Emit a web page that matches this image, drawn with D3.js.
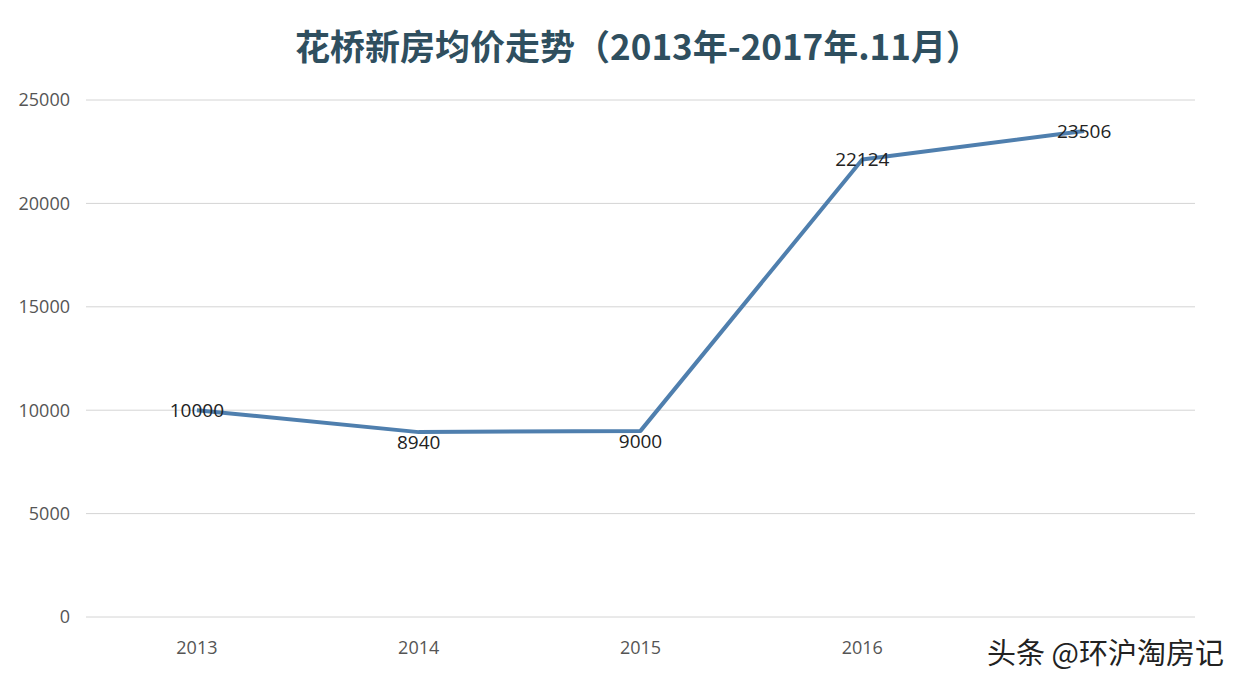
<!DOCTYPE html>
<html><head><meta charset="utf-8">
<script src="https://cdn.jsdelivr.net/npm/d3@7"></script>
<style>body{margin:0;background:#fff}</style>
</head><body>
<svg id="chart" width="1244" height="690"></svg>
<script>
const years = ["2013", "2014", "2015", "2016", "2017"];
const prices = [10000, 8940, 9000, 22124, 23506];
const labelDy = [0, 10, 10, 0, 0];
const yTicks = [0, 5000, 10000, 15000, 20000, 25000];

const margin = {top: 100, right: 49, bottom: 73, left: 86};
const width = 1244, height = 690;

const svg = d3.select("#chart");

const x = d3.scaleBand()
    .domain(years)
    .range([margin.left, width - margin.right]);

const y = d3.scaleLinear()
    .domain([0, 25000])
    .range([height - margin.bottom, margin.top]);

svg.append("text")
    .attr("x", 638).attr("y", 60)
    .attr("text-anchor", "middle")
    .attr("font-family", "Noto Sans CJK SC")
    .attr("font-weight", "bold")
    .attr("font-size", 35)
    .attr("fill", "#2f4f5f")
    .text("花桥新房均价走势（2013年-2017年.11月）");

// grid
svg.append("g")
  .selectAll("line")
  .data(yTicks)
  .join("line")
    .attr("x1", margin.left).attr("x2", width - margin.right)
    .attr("y1", d => y(d)).attr("y2", d => y(d))
    .attr("stroke", "#d4d4d4").attr("stroke-width", 1);

svg.append("g")
  .selectAll("text")
  .data(yTicks)
  .join("text")
    .attr("x", 70).attr("y", d => y(d))
    .attr("dy", "0.35em")
    .attr("text-anchor", "end")
    .attr("font-family", "Open Sans")
    .attr("font-size", 18)
    .attr("fill", "#555")
    .text(d => d);

svg.append("g")
  .selectAll("text")
  .data(years.slice(0, 4))
  .join("text")
    .attr("x", d => x(d) + x.bandwidth() / 2)
    .attr("y", 654)
    .attr("text-anchor", "middle")
    .attr("font-family", "Open Sans")
    .attr("font-size", 18)
    .attr("fill", "#555")
    .text(d => d);

const line = d3.line()
    .x((d, i) => x(years[i]) + x.bandwidth() / 2)
    .y(d => y(d));

svg.append("path")
    .datum(prices)
    .attr("d", line)
    .attr("fill", "none")
    .attr("stroke", "#4f7fae")
    .attr("stroke-width", 4)
    .attr("stroke-linejoin", "round");

svg.append("g")
  .selectAll("text")
  .data(prices)
  .join("text")
    .attr("x", (d, i) => x(years[i]) + x.bandwidth() / 2)
    .attr("y", (d, i) => y(d) + labelDy[i])
    .attr("dy", "0.35em")
    .attr("text-anchor", "middle")
    .attr("font-family", "Open Sans")
    .attr("font-size", 19)
    .attr("fill", "#222")
    .text(d => d);

svg.append("text")
    .attr("x", 1224).attr("y", 664)
    .attr("text-anchor", "end")
    .attr("font-family", "Noto Sans CJK SC")
    .attr("font-size", 29)
    .attr("fill", "#222")
    .text("头条 @环沪淘房记");
</script>
</body></html>
